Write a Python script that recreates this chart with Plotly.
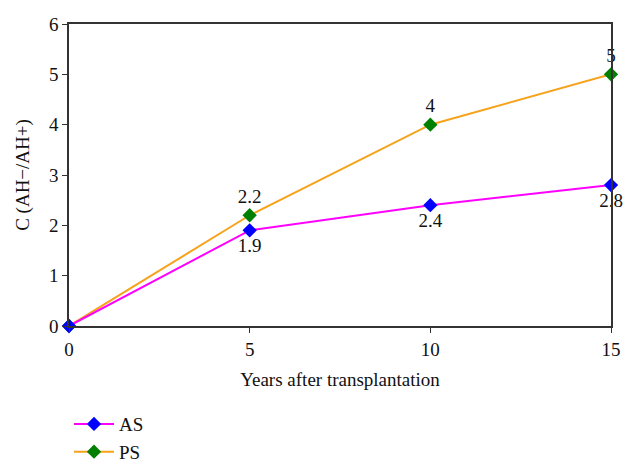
import plotly.graph_objects as go

years = [0, 5, 10, 15]
as_vals = [0, 1.9, 2.4, 2.8]
ps_vals = [0, 2.2, 4, 5]
as_labels = ["", "1.9", "2.4", "2.8"]
ps_labels = ["", "2.2", "4", "5"]

font = "Liberation Serif"
fs = 19

fig = go.Figure()
fig.add_trace(go.Scatter(
    x=years, y=ps_vals, name="PS", mode="lines+markers+text",
    line=dict(color="#F7A21B", width=2),
    marker=dict(symbol="diamond", size=11, color="#008000"),
    text=ps_labels, textposition="top center",
    textfont=dict(family=font, size=fs, color="#111"),
    cliponaxis=False,
))
fig.add_trace(go.Scatter(
    x=years, y=as_vals, name="AS", mode="lines+markers+text",
    line=dict(color="#FF00FF", width=2),
    marker=dict(symbol="diamond", size=11, color="#0000FF"),
    text=as_labels, textposition="bottom center",
    textfont=dict(family=font, size=fs, color="#111"),
    cliponaxis=False,
))

# page body has an 8px margin; compensate so the plot area lands where the reference has it
fig.update_layout(
    width=626, height=467,
    margin=dict(l=61, r=23, t=16, b=149, autoexpand=False),
    paper_bgcolor="white", plot_bgcolor="white",
    font=dict(family=font, size=fs, color="#111"),
    xaxis=dict(range=[0, 15], tickvals=[0, 5, 10, 15], showgrid=False, zeroline=False,
               showline=True, linecolor="#333", linewidth=1.5, mirror=True,
               ticks="outside", ticklen=5, tickcolor="#333", automargin=False,
               title=dict(text="Years after transplantation", font=dict(size=fs), standoff=14)),
    yaxis=dict(range=[0, 6], tickvals=[0, 1, 2, 3, 4, 5, 6], showgrid=False, zeroline=False,
               showline=True, linecolor="#333", linewidth=1.5, mirror=True,
               ticks="outside", ticklen=5, tickcolor="#333", automargin=False,
               title=dict(text="C (AH−/AH+)", font=dict(size=fs), standoff=14)),
    legend=dict(x=0.0, y=-0.262, xanchor="left", yanchor="top", traceorder="reversed",
                font=dict(size=fs), bgcolor="rgba(0,0,0,0)", itemwidth=40, tracegroupgap=0),
    showlegend=True,
)

fig.write_html("out.html")
